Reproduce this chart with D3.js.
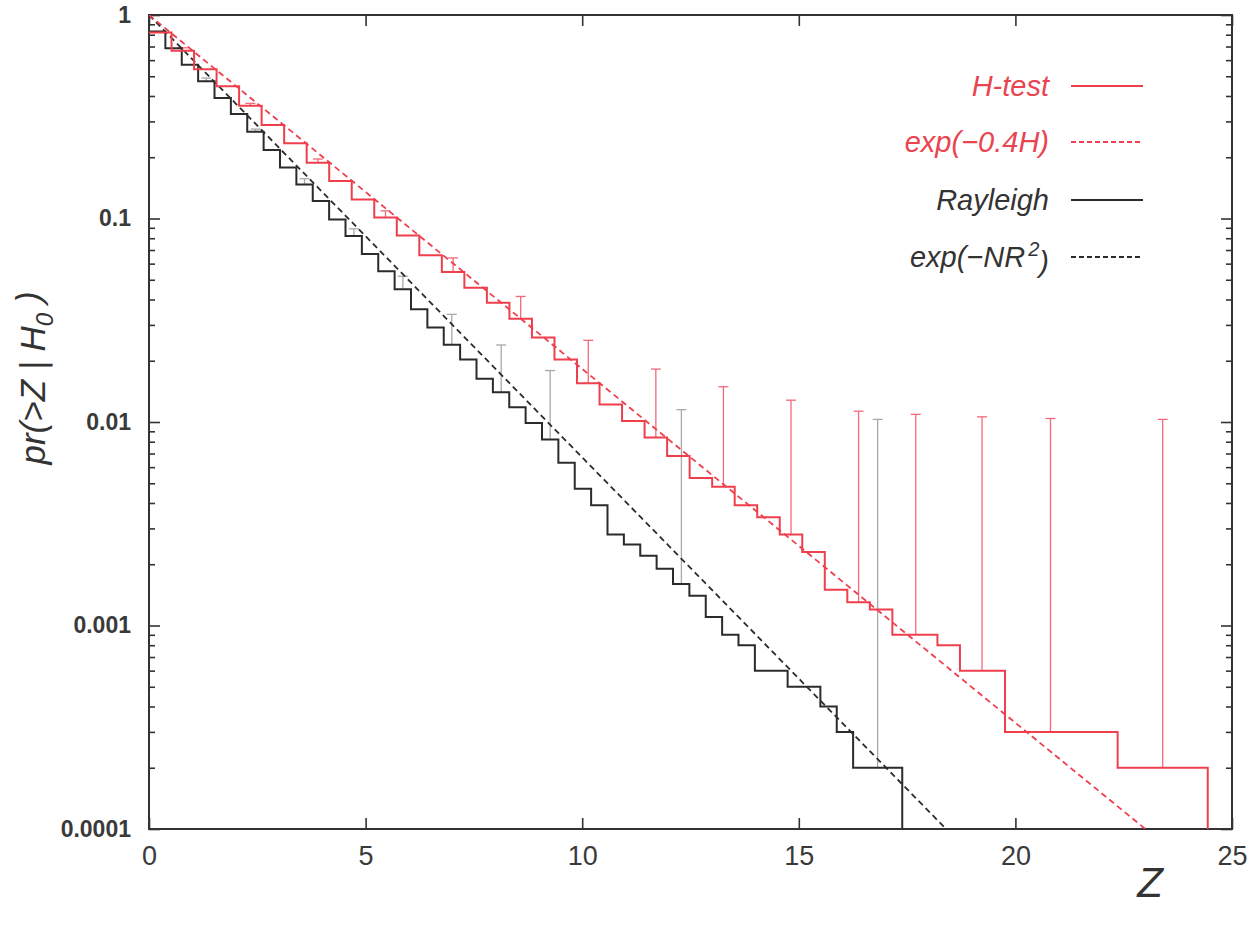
<!DOCTYPE html>
<html><head><meta charset="utf-8">
<script src="https://cdn.jsdelivr.net/npm/d3@7"></script>
<style>body{margin:0;background:#fff}</style>
</head><body>
<svg id="chart" width="1247" height="926"></svg>
<script>
// ---------------- data ----------------
const hBinWidth = 0.52;   // H-test bin width in Z
const hValues = [0.82, 0.668, 0.542, 0.446, 0.358, 0.288, 0.234, 0.188, 0.153, 0.124,
  0.101, 0.0826, 0.0659, 0.0546, 0.0457, 0.0386, 0.0322, 0.0260, 0.0203, 0.0155,
  0.0122, 0.0101, 0.0084, 0.0068, 0.0053, 0.0048, 0.0039, 0.0034, 0.0028, 0.0023,
  0.0015, 0.0013, 0.0012, 0.0009, 0.0009, 0.0008, 0.0006, 0.0006, 0.0003, 0.0003,
  0.0003, 0.0003, 0.0003, 0.0002, 0.0002, 0.0002, 0.0002];
const hErrZ  = [0.78, 2.34, 3.9, 5.46, 7.02, 8.58, 10.14, 11.7, 13.26, 14.82, 16.38, 17.7, 19.23, 20.81, 23.4];
const hErrHi = [0.69, 0.368, 0.196, 0.109, 0.064, 0.0414, 0.0252, 0.0182, 0.0149, 0.0128, 0.0113, 0.0109, 0.0106, 0.0104, 0.0103];

const rBinWidth = 0.378;  // Rayleigh bin width in Z
const rValues = [0.83, 0.686, 0.570, 0.472, 0.391, 0.326, 0.267, 0.217, 0.178, 0.147,
  0.122, 0.099, 0.082, 0.067, 0.055, 0.0449, 0.0358, 0.0291, 0.0240, 0.0203,
  0.0163, 0.0140, 0.0118, 0.0099, 0.0082, 0.0063, 0.0047, 0.0039, 0.0028, 0.0025,
  0.0022, 0.0019, 0.0016, 0.0014, 0.0011, 0.0009, 0.0008, 0.0006, 0.0006, 0.0005,
  0.0005, 0.0004, 0.0003, 0.0002, 0.0002, 0.0002];
const rErrZ  = [1.32, 2.46, 3.59, 4.73, 5.86, 6.99, 8.13, 9.26, 12.29, 16.82];
const rErrHi = [0.49, 0.275, 0.157, 0.089, 0.052, 0.0338, 0.0239, 0.0179, 0.0115, 0.0103];

const hExpLine = [[0, 1], [23.0, 0.0001]];   // exp(-0.4H)
const rExpLine = [[0, 1], [18.4, 0.0001]];   // exp(-NR^2)

const xDomain = [0, 25];
const yDomain = [0.0001, 1];
const xTicks = [0, 5, 10, 15, 20, 25];
const yTicks = [1, 0.1, 0.01, 0.001, 0.0001];
const yTickLabels = ["1", "0.1", "0.01", "0.001", "0.0001"];
const legendLabels = ["H-test", "exp(\u22120.4H)", "Rayleigh", "exp(\u2212NR"];
const yTitle = "pr(>Z | H";
const xTitle = "Z";

// ---------------- layout / style ----------------
const RED = "#ef3f4d", RED_ERR = "#f2697a", BLACK = "#2b2b2b", GRAY = "#a8a8a8", AXIS = "#333";
const L = 149, R = 1232, T = 15, B = 829;

const svg = d3.select("#chart");
const x = d3.scaleLinear().domain(xDomain).range([L, R]);
const y = d3.scaleLog().domain(yDomain).range([B, T]);

// minor / major y ticks (inward, left & right)
const minorY = y.ticks().filter(v => !yTicks.some(t => Math.abs(t - v) / t < 1e-9));
function tickAxis(axisFn, scale, vals, size, tr) {
  const g = svg.append("g").attr("transform", tr)
    .call(axisFn(scale).tickValues(vals).tickSize(-size).tickFormat(""));
  g.select(".domain").remove();
  g.selectAll("line").attr("stroke", AXIS).attr("stroke-width", 1.6);
  return g;
}
tickAxis(d3.axisLeft, y, minorY, 6, `translate(${L},0)`);
tickAxis(d3.axisRight, y, minorY, 6, `translate(${R},0)`);
tickAxis(d3.axisRight, y, yTicks, 11, `translate(${R},0)`);
tickAxis(d3.axisTop, x, xTicks, 11, `translate(0,${T})`);

// y major with labels
const gy = svg.append("g").attr("transform", `translate(${L},0)`)
  .call(d3.axisLeft(y).tickValues(yTicks).tickSize(-11).tickPadding(18)
    .tickFormat((d, i) => yTickLabels[i]));
gy.select(".domain").remove();
gy.selectAll("line").attr("stroke", AXIS).attr("stroke-width", 1.6);
gy.selectAll("text").attr("font-family", "'Liberation Sans', Arial, sans-serif")
  .attr("font-weight", "bold").attr("font-size", 23).attr("fill", "#3a3a3a");

// x major with labels
const gx = svg.append("g").attr("transform", `translate(0,${B})`)
  .call(d3.axisBottom(x).tickValues(xTicks).tickSize(-11).tickPadding(17).tickFormat(d3.format("d")));
gx.select(".domain").remove();
gx.selectAll("line").attr("stroke", AXIS).attr("stroke-width", 1.6);
gx.selectAll("text").attr("font-family", "'Liberation Sans Narrow', 'Liberation Sans', Arial, sans-serif")
  .attr("font-size", 27).attr("fill", "#3a3a3a");

// frame
svg.append("rect").attr("x", L).attr("y", T).attr("width", R - L).attr("height", B - T)
  .attr("fill", "none").attr("stroke", AXIS).attr("stroke-width", 2);

// clip
svg.append("clipPath").attr("id", "clip").append("rect")
  .attr("x", L).attr("y", T).attr("width", R - L).attr("height", B - T);
const plot = svg.append("g").attr("clip-path", "url(#clip)");

const lineGen = d3.line().x(d => x(d[0])).y(d => y(d[1]));

// error bars
function errBars(zs, his, values, w, color) {
  const data = zs.map((z, i) => ({ z, hi: his[i], lo: values[Math.min(values.length - 1, Math.floor(z / w))] }));
  const g = plot.append("g").attr("stroke", color).attr("stroke-width", 1.3);
  g.selectAll("line.v").data(data).join("line").attr("class", "v")
    .attr("x1", d => x(d.z)).attr("x2", d => x(d.z))
    .attr("y1", d => y(d.lo)).attr("y2", d => y(d.hi));
  g.selectAll("line.c").data(data).join("line").attr("class", "c")
    .attr("x1", d => x(d.z) - 5).attr("x2", d => x(d.z) + 5)
    .attr("y1", d => y(d.hi)).attr("y2", d => y(d.hi));
}
errBars(rErrZ, rErrHi, rValues, rBinWidth, GRAY);
errBars(hErrZ, hErrHi, hValues, hBinWidth, RED_ERR);

// dashed model lines
plot.append("path").datum(rExpLine).attr("d", lineGen).attr("fill", "none")
  .attr("stroke", BLACK).attr("stroke-width", 1.8).attr("stroke-dasharray", "6,4");
plot.append("path").datum(hExpLine).attr("d", lineGen).attr("fill", "none")
  .attr("stroke", RED).attr("stroke-width", 1.8).attr("stroke-dasharray", "6,4");

// step histograms
function steps(values, w, color) {
  const pts = values.map((v, k) => [k * w, v]);
  pts.push([values.length * w, yDomain[0]]);
  plot.append("path").datum(pts)
    .attr("d", d3.line().curve(d3.curveStepAfter).x(d => x(d[0])).y(d => y(d[1])))
    .attr("fill", "none").attr("stroke", color).attr("stroke-width", 2);
}
steps(rValues, rBinWidth, BLACK);
steps(hValues, hBinWidth, RED);

// legend
const legendColors = [RED, RED, BLACK, BLACK];
const legendDash = [null, "5,3", null, "5,3"];
const legY = [86, 142, 200, 257];
const lg = svg.append("g");
legendLabels.forEach((lab, i) => {
  const t = lg.append("text").attr("x", 1049).attr("y", legY[i]).attr("dy", "0.35em")
    .attr("text-anchor", "end").attr("font-family", "'Liberation Sans', Arial, sans-serif")
    .attr("font-style", "italic").attr("font-size", 29)
    .attr("fill", i < 2 ? "#ea4450" : "#333").text(lab);
  if (i === 3) {
    t.append("tspan").attr("font-size", 20).attr("dy", "-0.55em").attr("dx", "3").text("2");
    t.append("tspan").attr("dy", "0.55em").text(")");
  }
  lg.append("line").attr("x1", 1071).attr("x2", 1143).attr("y1", legY[i]).attr("y2", legY[i])
    .attr("stroke", legendColors[i]).attr("stroke-width", 1.8)
    .attr("stroke-dasharray", legendDash[i]);
});

// axis titles
const yt = svg.append("text").attr("transform", "translate(45,378) rotate(-90)")
  .attr("text-anchor", "middle").attr("font-family", "'Liberation Sans', Arial, sans-serif")
  .attr("font-style", "italic").attr("font-size", 35).attr("fill", "#333").text(yTitle);
yt.append("tspan").attr("font-size", 24).attr("dy", "0.35em").text("0");
yt.append("tspan").attr("dy", "-0.35em").text(" )");

svg.append("text").attr("x", 1150).attr("y", 897).attr("text-anchor", "middle")
  .attr("font-family", "'Liberation Sans', Arial, sans-serif").attr("font-style", "italic")
  .attr("font-size", 42).attr("fill", "#333").text(xTitle);
</script>
</body></html>
